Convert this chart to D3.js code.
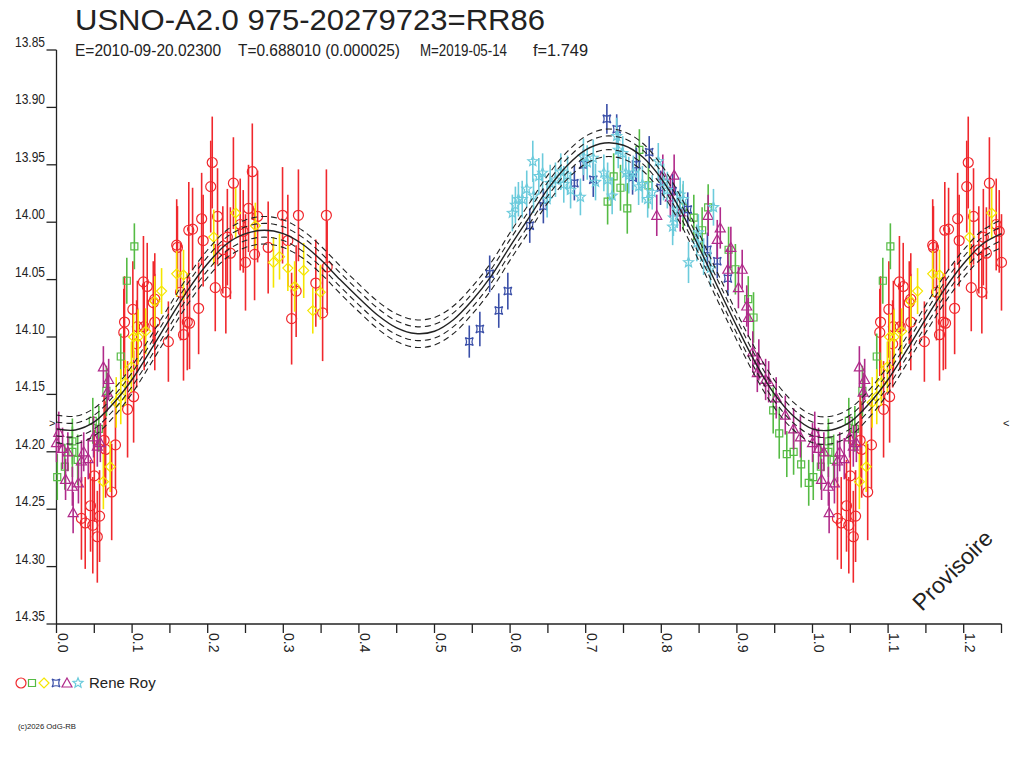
<!DOCTYPE html>
<html>
<head>
<meta charset="utf-8">
<script src="https://cdn.jsdelivr.net/npm/d3@7"></script>
<style>
  html, body { margin: 0; padding: 0; background: #ffffff; }
  svg { display: block; font-family: "Liberation Sans", Arial, sans-serif; }
</style>
</head>
<body>
<svg id="chart" width="1024" height="768"></svg>
<script>
// ---------- DATA ----------
const titleText = "USNO-A2.0 975-20279723=RR86";
const subTexts = ["E=2010-09-20.02300", "T=0.688010 (0.000025)", "M=2019-05-14", "f=1.749"];
const observerName = "Rene Roy";
const copyrightText = "(c)2026 OdG-RB";
const watermark = "Provisoire";

const yTicks = [13.85, 13.90, 13.95, 14.00, 14.05, 14.10, 14.15, 14.20, 14.25, 14.30, 14.35];
const xTickLabels = [0.0, 0.1, 0.2, 0.3, 0.4, 0.5, 0.6, 0.7, 0.8, 0.9, 1.0, 1.1, 1.2];
const meanMag = 14.175;

// model light curve (phase, mag)
const modelPhase = [0.000,0.025,0.050,0.075,0.100,0.125,0.150,0.175,0.200,0.225,0.250,0.275,0.300,0.325,0.350,0.375,0.400,0.425,0.450,0.475,0.500,0.525,0.550,0.575,0.600,0.625,0.650,0.675,0.700,0.725,0.750,0.775,0.800,0.825,0.850,0.875,0.900,0.925,0.950,0.975,1.000];
const modelMag   = [14.180,14.181,14.174,14.158,14.137,14.111,14.084,14.058,14.036,14.019,14.010,14.007,14.010,14.019,14.033,14.050,14.066,14.081,14.092,14.097,14.095,14.085,14.068,14.047,14.021,13.996,13.971,13.951,13.937,13.931,13.933,13.943,13.962,13.989,14.022,14.057,14.091,14.123,14.150,14.169,14.180];
const bandOffsets = [-0.012, -0.006, 0.006, 0.012];

// observations [phase, mag, error]
const redPts = [
[0.159,14.020,0.040],[0.160,14.022,0.036],[0.175,14.007,0.042],[0.115,14.052,0.040],[0.120,14.056,0.038],
[0.128,14.070,0.036],[0.130,14.067,0.040],[0.101,14.076,0.042],[0.090,14.087,0.040],[0.089,14.096,0.038],
[0.107,14.091,0.040],[0.106,14.106,0.038],[0.130,14.087,0.042],[0.148,14.104,0.035],[0.168,14.098,0.040],
[0.173,14.087,0.042],[0.102,14.152,0.040],[0.094,14.163,0.042],[0.063,14.190,0.040],[0.078,14.194,0.038],
[0.065,14.198,0.042],[0.050,14.221,0.040],[0.073,14.235,0.042],[0.045,14.247,0.040],[0.033,14.258,0.036],
[0.038,14.262,0.040],[0.048,14.264,0.042],[0.057,14.256,0.040],[0.054,14.274,0.040],[0.206,13.948,0.040],
[0.259,13.956,0.042],[0.234,13.966,0.040],[0.204,13.969,0.040],[0.192,13.997,0.040],[0.180,14.006,0.036],
[0.213,13.995,0.042],[0.254,13.988,0.038],[0.266,13.995,0.040],[0.299,13.994,0.042],[0.320,13.994,0.040],
[0.194,14.016,0.040],[0.226,14.013,0.042],[0.243,14.002,0.040],[0.247,14.008,0.036],[0.230,14.027,0.040],
[0.220,14.024,0.038],[0.262,14.028,0.040],[0.250,14.035,0.042],[0.280,14.022,0.040],[0.306,14.016,0.040],
[0.210,14.057,0.038],[0.224,14.061,0.036],[0.164,14.061,0.042],[0.188,14.075,0.040],[0.176,14.088,0.040],
[0.311,14.084,0.040],[0.343,14.053,0.038],[0.352,14.079,0.042],[0.358,14.039,0.040],[0.317,14.060,0.040],
[0.116,14.091,0.038],[0.357,13.994,0.040]
];
const greenPts = [
[0.103,14.021,0.020],[0.093,14.051,0.020],[0.085,14.117,0.020],[0.066,14.147,0.022],[0.048,14.173,0.020],
[0.021,14.191,0.020],[0.021,14.200,0.022],[0.011,14.213,0.020],[0.001,14.222,0.020],[0.056,14.180,0.020],
[0.028,14.207,0.022],[0.771,13.937,0.018],[0.737,13.960,0.020],[0.746,13.970,0.020],[0.729,13.982,0.020],
[0.755,13.988,0.022],[0.783,13.968,0.020],[0.829,13.987,0.020],[0.843,13.996,0.020],[0.862,13.987,0.020],
[0.854,14.007,0.020],[0.889,14.024,0.020],[0.898,14.041,0.022],[0.915,14.067,0.020],[0.922,14.083,0.022],
[0.948,14.164,0.020],[0.956,14.184,0.022],[0.966,14.202,0.020],[0.975,14.200,0.020],[0.985,14.211,0.020],
[0.995,14.227,0.020]
];
const yellowPts = [
[0.159,14.045,0.020],[0.168,14.046,0.022],[0.139,14.060,0.020],[0.130,14.069,0.022],[0.118,14.095,0.020],
[0.108,14.100,0.024],[0.102,14.100,0.020],[0.099,14.126,0.022],[0.091,14.140,0.020],[0.085,14.152,0.024],
[0.079,14.157,0.022],[0.071,14.213,0.022],[0.062,14.226,0.024],[0.237,13.992,0.022],[0.263,14.003,0.020],
[0.208,14.013,0.024],[0.295,14.030,0.020],[0.287,14.035,0.022],[0.306,14.040,0.020],[0.327,14.042,0.024],
[0.315,14.056,0.022],[0.349,14.061,0.024],[0.339,14.077,0.020]
];
const bluePts = [
[0.728,13.910,0.013],[0.741,13.919,0.013],[0.573,14.045,0.016],[0.597,14.060,0.016],[0.585,14.077,0.015],
[0.560,14.093,0.015],[0.546,14.104,0.014],[0.626,14.003,0.015],[0.644,13.986,0.015],[0.685,13.966,0.015],
[0.784,13.939,0.014],[0.767,13.950,0.015],[0.762,13.961,0.015],[0.710,13.963,0.015],[0.697,13.950,0.014],
[0.835,13.989,0.015],[0.799,13.970,0.015],[0.861,14.024,0.015],[0.874,14.034,0.015],[0.888,14.049,0.015],
[0.815,13.973,0.015]
];
const purplePts = [
[0.062,14.126,0.018],[0.069,14.137,0.018],[0.067,14.148,0.017],[0.003,14.183,0.018],[0.000,14.192,0.017],
[0.008,14.197,0.018],[0.015,14.200,0.017],[0.022,14.253,0.018],[0.012,14.224,0.018],[0.021,14.230,0.017],
[0.029,14.227,0.018],[0.042,14.206,0.018],[0.036,14.200,0.017],[0.049,14.187,0.018],[0.054,14.195,0.018],
[0.058,14.192,0.017],[0.033,14.208,0.018],[0.794,13.994,0.018],[0.817,13.959,0.018],[0.862,13.994,0.018],
[0.878,14.005,0.018],[0.874,14.015,0.017],[0.892,14.022,0.018],[0.888,14.041,0.018],[0.907,14.041,0.017],
[0.902,14.057,0.018],[0.913,14.073,0.018],[0.915,14.083,0.017],[0.921,14.113,0.018],[0.929,14.120,0.018],
[0.927,14.131,0.017],[0.938,14.137,0.018],[0.942,14.139,0.018],[0.952,14.153,0.018],[0.964,14.168,0.017],
[0.802,13.959,0.018],[0.812,13.978,0.018],[0.825,13.991,0.017],[0.984,14.187,0.018],[0.975,14.180,0.018]
];
const cyanPts = [
[0.603,13.992,0.016],[0.607,13.985,0.016],[0.611,13.980,0.015],[0.616,13.980,0.016],[0.622,13.971,0.016],
[0.631,13.977,0.015],[0.630,13.947,0.018],[0.638,13.960,0.016],[0.643,13.957,0.017],[0.649,13.980,0.016],
[0.653,13.966,0.016],[0.660,13.963,0.015],[0.667,13.956,0.016],[0.671,13.967,0.016],[0.676,13.959,0.017],
[0.680,13.972,0.016],[0.693,13.978,0.016],[0.697,13.943,0.016],[0.702,13.948,0.015],[0.710,13.944,0.016],
[0.713,13.965,0.016],[0.724,13.957,0.016],[0.729,13.963,0.015],[0.735,13.977,0.016],[0.741,13.925,0.016],
[0.743,13.937,0.016],[0.749,13.940,0.015],[0.753,13.957,0.016],[0.757,13.959,0.016],[0.763,13.957,0.015],
[0.770,13.969,0.016],[0.775,13.967,0.016],[0.782,13.980,0.016],[0.788,13.974,0.015],[0.796,13.947,0.016],
[0.803,13.965,0.016],[0.808,13.972,0.016],[0.815,14.004,0.016],[0.825,13.976,0.015],[0.829,13.980,0.016],
[0.836,14.035,0.018],[0.847,14.018,0.016],[0.849,14.009,0.016],[0.816,13.996,0.016],[0.821,13.989,0.016],
[0.856,14.030,0.016],[0.865,14.040,0.016],[0.869,13.987,0.016]
];

const seriesNames  = ["red", "green", "yellow", "blue", "purple", "cyan"];
const seriesColors = ["#f0282d", "#55bb44", "#f5e600", "#3a4fa8", "#b02a8a", "#6ccbdc"];
const seriesShapes = ["circle", "square", "diamond", "cross", "triangle", "star"];
const seriesData   = [redPts, greenPts, yellowPts, bluePts, purplePts, cyanPts];

// ---------- CHART ----------
const svg = d3.select("#chart");
const x = d3.scaleLinear().domain([0, 1.25]).range([56.5, 1001.5]);
const y = d3.scaleLinear().domain([13.85, 14.35]).range([50, 624]);
const ink = "#222";

// titles
svg.append("text").attr("x", 75).attr("y", 30).attr("font-size", 29)
  .attr("textLength", 470).attr("lengthAdjust", "spacingAndGlyphs")
  .attr("fill", ink).text(titleText);
const subPos = [[75, 146], [238, 162], [420, 87], [533, 55]];
subTexts.forEach((t, i) => {
  svg.append("text").attr("x", subPos[i][0]).attr("y", 56).attr("font-size", 16)
    .attr("textLength", subPos[i][1]).attr("lengthAdjust", "spacingAndGlyphs")
    .attr("fill", ink).text(t);
});

// axes
const axisG = svg.append("g").attr("stroke", ink).attr("stroke-width", 1.3);
axisG.append("line").attr("x1", x(0)).attr("x2", x(0)).attr("y1", y(13.85)).attr("y2", y(14.35));
axisG.append("line").attr("x1", x(0)).attr("x2", x(1.25)).attr("y1", y(14.35)).attr("y2", y(14.35));
yTicks.forEach(v => {
  axisG.append("line").attr("x1", x(0) - 10).attr("x2", x(0)).attr("y1", y(v)).attr("y2", y(v));
});
d3.range(0, 26).forEach(i => {
  const v = i * 0.05;
  axisG.append("line").attr("x1", x(v)).attr("x2", x(v)).attr("y1", y(14.35)).attr("y2", y(14.35) + 9);
});
svg.append("g").selectAll("text").data(yTicks).join("text")
  .attr("x", 45).attr("y", d => y(d) - 3).attr("text-anchor", "end")
  .attr("font-size", 14).attr("textLength", 30).attr("lengthAdjust", "spacingAndGlyphs")
  .attr("fill", ink).text(d => d3.format(".2f")(d));
svg.append("g").selectAll("text").data(xTickLabels).join("text")
  .attr("transform", d => `translate(${x(d) + 1},${y(14.35) + 9}) rotate(90)`)
  .attr("font-size", 14).attr("fill", ink).text(d => d3.format(".1f")(d));

// mean markers
svg.append("text").attr("x", 49).attr("y", y(meanMag) + 4).attr("font-size", 11).attr("fill", ink).text(">");
svg.append("text").attr("x", 1003).attr("y", y(meanMag) + 4).attr("font-size", 11).attr("fill", ink).text("<");

// symbols
function shapePath(shape) {
  switch (shape) {
    case "square": return "M-3.5,-3.5H3.5V3.5H-3.5Z";
    case "diamond": return "M0,-5L5,0L0,5L-5,0Z";
    case "cross": return "M-4,-4Q0,-1.5 4,-4Q1.5,0 4,4Q0,1.5 -4,4Q-1.5,0 -4,-4Z";
    case "triangle": return "M0,-5L5,4L-5,4Z";
    case "star": {
      let p = [];
      for (let k = 0; k < 10; k++) {
        const r = k % 2 === 0 ? 5.2 : 2.3;
        const a = -Math.PI / 2 + k * Math.PI / 5;
        p.push([r * Math.cos(a), r * Math.sin(a)]);
      }
      return "M" + p.map(q => q[0].toFixed(2) + "," + q[1].toFixed(2)).join("L") + "Z";
    }
    default: return "M5,0A5,5 0 1,1 -5,0A5,5 0 1,1 5,0Z";
  }
}

// observations (phase 0-1, repeated for 1-1.25)
const plotG = svg.append("g");
seriesData.forEach((pts, si) => {
  const all = [];
  pts.forEach(p => {
    all.push(p);
    if (p[0] + 1 <= 1.25) all.push([p[0] + 1, p[1], p[2]]);
  });
  const g = plotG.append("g").attr("stroke", seriesColors[si]).attr("fill", "none");
  g.selectAll("line").data(all).join("line")
    .attr("x1", d => x(d[0])).attr("x2", d => x(d[0]))
    .attr("y1", d => y(d[1] - d[2])).attr("y2", d => y(d[1] + d[2]))
    .attr("stroke-width", 1.6);
  g.selectAll("path").data(all).join("path")
    .attr("transform", d => `translate(${x(d[0])},${y(d[1])})`)
    .attr("d", shapePath(seriesShapes[si]))
    .attr("stroke-width", 1.2);
});

// model curve
const modelPts = modelPhase.map((p, i) => [p, modelMag[i]]);
modelPhase.forEach((p, i) => { if (p > 0 && p + 1 <= 1.25) modelPts.push([p + 1, modelMag[i]]); });
const line = d3.line().x(d => x(d[0])).y(d => y(d[1])).curve(d3.curveCatmullRom);
const curveG = svg.append("g").attr("fill", "none").attr("stroke", ink);
curveG.append("path").attr("d", line(modelPts)).attr("stroke-width", 1.4);
bandOffsets.forEach(o => {
  curveG.append("path").attr("d", line(modelPts.map(d => [d[0], d[1] + o])))
    .attr("stroke-width", 1.1).attr("stroke-dasharray", "6,4");
});

// watermark
svg.append("text").attr("transform", "translate(922,612) rotate(-45)")
  .attr("font-size", 23).attr("fill", ink).text(watermark);

// legend
const legX = [21, 32, 44, 56, 67, 78];
seriesShapes.forEach((s, i) => {
  svg.append("path").attr("transform", `translate(${legX[i]},683)`)
    .attr("d", shapePath(s)).attr("fill", "none").attr("stroke", seriesColors[i]).attr("stroke-width", 1.2);
});
svg.append("text").attr("x", 89).attr("y", 688).attr("font-size", 15).attr("fill", ink).text(observerName);
svg.append("text").attr("x", 18).attr("y", 729).attr("font-size", 7).attr("textLength", 58)
  .attr("lengthAdjust", "spacingAndGlyphs").attr("fill", ink).text(copyrightText);
</script>
</body>
</html>
